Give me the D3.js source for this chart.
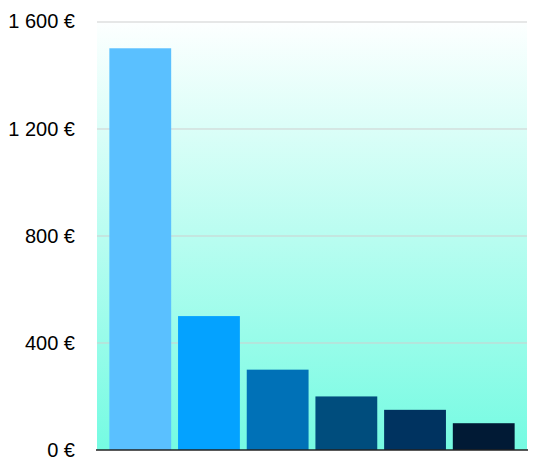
<!DOCTYPE html>
<html>
<head>
<meta charset="utf-8">
<script src="https://cdn.jsdelivr.net/npm/d3@7"></script>
<style>
  body { margin: 0; background: #fff; }
  text { font-family: "Liberation Sans", Arial, sans-serif; }
</style>
</head>
<body>
<div id="chart"></div>
<script>
// chart data
var categories = ["A", "B", "C", "D", "E", "F"];
var values = [1500, 500, 300, 200, 150, 100];
var barColors = ["#5ac0ff", "#04a2ff", "#0071b7", "#004d7d", "#003360", "#011a35"];
var yTicks = [0, 400, 800, 1200, 1600];

var svgWidth = 548;
var svgHeight = 471;

var margin = { top: 21.5, right: 21, bottom: 21, left: 97 };
var width = svgWidth - margin.left - margin.right;
var height = svgHeight - margin.top - margin.bottom;

var svg = d3.select("#chart")
    .append("svg")
    .attr("width", svgWidth)
    .attr("height", svgHeight);

// background gradient
var defs = svg.append("defs");
var grad = defs.append("linearGradient")
    .attr("id", "bg")
    .attr("x1", 0).attr("y1", 0)
    .attr("x2", 0).attr("y2", 1);
grad.append("stop").attr("offset", "0%").attr("stop-color", "#fdffff");
grad.append("stop").attr("offset", "100%").attr("stop-color", "#75fbe2");

var chartGroup = svg.append("g")
    .attr("transform", `translate(${margin.left}, ${margin.top})`);

var x = d3.scaleBand()
    .domain(categories)
    .range([0, width])
    .paddingInner(0.1)
    .paddingOuter(0.18);

var y = d3.scaleLinear()
    .domain([0, 1600])
    .range([height, 0]);

chartGroup.append("rect")
    .attr("x", 0)
    .attr("y", 0)
    .attr("width", width)
    .attr("height", height)
    .attr("fill", "url(#bg)");

// gridlines
chartGroup.selectAll("line.grid")
    .data(yTicks.filter(d => d > 0))
    .enter()
    .append("line")
    .classed("grid", true)
    .attr("x1", 0)
    .attr("x2", width)
    .attr("y1", d => Math.round(y(d)) + 0.5)
    .attr("y2", d => Math.round(y(d)) + 0.5)
    .attr("stroke", "#cfcfcf")
    .attr("stroke-width", 1);

// y labels
var leftAxis = d3.axisLeft(y)
    .tickValues(yTicks)
    .tickSize(0)
    .tickPadding(22)
    .tickFormat(d => d3.format(",")(d).replace(/,/g, " ") + " €");

var yAxis = chartGroup.append("g").call(leftAxis);
yAxis.select(".domain").remove();
yAxis.selectAll("text")
    .style("font-size", "20px")
    .attr("fill", "#000");

// bars
chartGroup.selectAll("rect.bar")
    .data(values)
    .enter()
    .append("rect")
    .classed("bar", true)
    .attr("x", (d, i) => x(categories[i]))
    .attr("width", x.bandwidth())
    .attr("y", d => y(d))
    .attr("height", d => height - y(d))
    .attr("fill", (d, i) => barColors[i]);

// baseline
chartGroup.append("line")
    .attr("x1", -1)
    .attr("x2", width + 1)
    .attr("y1", height)
    .attr("y2", height)
    .attr("stroke", "#222")
    .attr("stroke-width", 1.5);
</script>
</body>
</html>
